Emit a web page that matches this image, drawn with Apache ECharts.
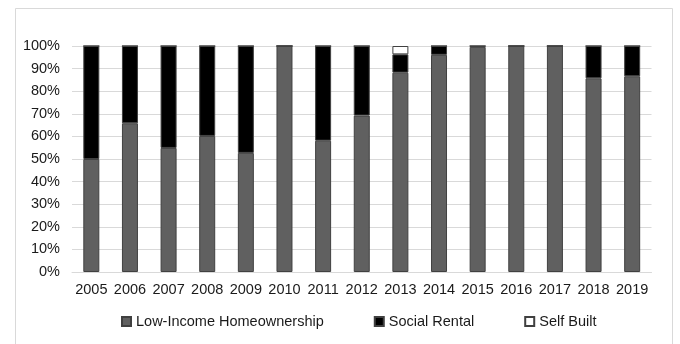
<!DOCTYPE html>
<html>
<head>
<meta charset="utf-8">
<script src="https://cdn.jsdelivr.net/npm/echarts@6/dist/echarts.min.js"></script>
<style>
  html, body { margin: 0; padding: 0; background: #fff; }
  #chart { width: 680px; height: 344px; }
</style>
</head>
<body>
<div id="chart"></div>
<script>
// Share of completed units by programme type, per year (percent)
const years = ['2005', '2006', '2007', '2008', '2009', '2010', '2011', '2012',
               '2013', '2014', '2015', '2016', '2017', '2018', '2019'];
const lowIncomeHomeownership = [50.0, 65.8, 54.9, 60.2, 52.7, 100, 58.1, 69.2,
                                88.2, 96.1, 99.6, 100, 100, 85.7, 86.6];
const socialRental = [50.0, 34.2, 45.1, 39.8, 47.3, 0, 41.9, 30.8,
                      8.1, 3.9, 0.4, 0, 0, 14.3, 13.4];
const selfBuilt = [0, 0, 0, 0, 0, 0, 0, 0,
                   3.7, 0, 0, 0, 0, 0, 0];
const yTicks = ['0%', '10%', '20%', '30%', '40%', '50%', '60%', '70%', '80%', '90%', '100%'];

const font = 'Liberation Sans, Arial, sans-serif';
const chart = echarts.init(document.getElementById('chart'), null, { renderer: 'canvas' });

function barSeries(name, data, fill) {
  return {
    name: name,
    type: 'bar',
    stack: 'total',
    data: data,
    barWidth: 16,
    itemStyle: { color: fill, borderColor: '#404040', borderWidth: 1 },
    emphasis: { disabled: true }
  };
}

chart.setOption({
  animation: false,
  backgroundColor: '#ffffff',
  graphic: [{
    type: 'rect',
    shape: { x: 15.5, y: 8.5, width: 657, height: 345 },
    style: { fill: 'none', stroke: '#d9d9d9', lineWidth: 1 },
    silent: true
  }],
  grid: { left: 72, right: 28.5, top: 46, bottom: 72, containLabel: false },
  legend: {
    left: 116,
    top: 309,
    itemWidth: 9,
    itemHeight: 9,
    itemGap: 50,
    icon: 'rect',
    textStyle: { fontFamily: font, fontSize: 14.5, color: '#1a1a1a' },
    data: ['Low-Income Homeownership', 'Social Rental', 'Self Built']
  },
  xAxis: {
    type: 'category',
    data: years,
    axisLine: { show: true, lineStyle: { color: '#d9d9d9' } },
    axisTick: { show: false },
    axisLabel: { interval: 0, fontFamily: font, fontSize: 14.5, color: '#1a1a1a', margin: 10 }
  },
  yAxis: {
    type: 'value',
    min: 0,
    max: 100,
    interval: 10,
    axisLine: { show: false },
    axisTick: { show: false },
    splitLine: { lineStyle: { color: '#d9d9d9', width: 1 } },
    axisLabel: {
      fontFamily: font, fontSize: 14.5, color: '#1a1a1a', margin: 12,
      formatter: function (v) { return yTicks[Math.round(v / 10)]; }
    }
  },
  series: [
    barSeries('Low-Income Homeownership', lowIncomeHomeownership, '#606060'),
    barSeries('Social Rental', socialRental, '#000000'),
    barSeries('Self Built', selfBuilt, '#ffffff')
  ]
});
</script>
</body>
</html>
